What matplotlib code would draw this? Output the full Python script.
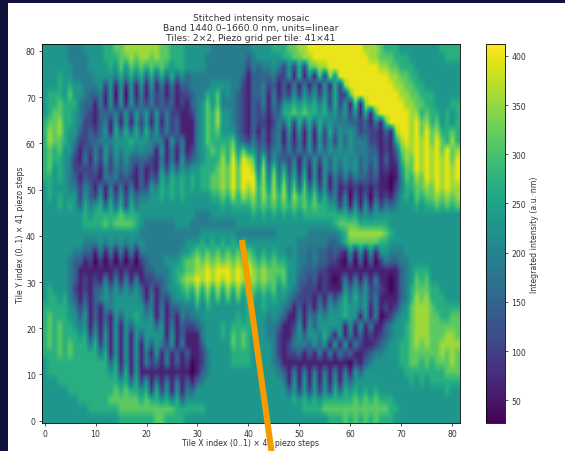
import numpy as np
import matplotlib
matplotlib.use("Agg")
import matplotlib.pyplot as plt
from matplotlib.lines import Line2D
from matplotlib.patches import Rectangle

# intensity, one digit per column, one line per two rows
level_values = [28, 62, 105, 150, 190, 230, 270, 315, 355, 400]

top_left = [
    "5555544455 5566778888 8887766655 5554444444 4",
    "5555544445 5566677878 8787766655 5544444444 3",
    "5555554445 5556575767 6767656655 5544444444 2",
    "5556554444 5555464646 3636363534 4444444443 1",
    "5556565544 4525151515 1514141334 4445555442 1",
    "5666575543 3415050514 1423131223 4465745432 1",
    "5667666433 1415151524 2423231213 4575744432 1",
    "5677665432 1333425253 5252422112 4576855432 1",
    "6778665422 1341515152 5151423111 4576855432 1",
    "6878655323 2351636363 6352423111 4576755532 1",
    "6877654223 3444555655 5444152411 4576666743 2",
    "6767553132 4253545545 4415141412 4567676857 5",
    "6766542141 4252535333 3214141523 4566686969 8",
    "6756542222 3142434313 1215253545 5666787979 9",
    "6656543132 2143423213 1326465656 5667787979 9",
    "5655544243 1414141413 2546565656 5667787979 8",
    "5656555253 2515252534 4556565655 5556676868 7",
    "5556565364 5636362645 5555555555 5555565666 6",
    "5555555565 6666676665 5555555555 4445555555 5",
    "5555555566 6676777765 4444445554 4444444455 5",
]

top_right = [
    "5555666778 8999999999 9988876665 5555555666 6",
    "4555556677 8899999999 9998877766 6555555566 6",
    "4344542526 2778899999 9999988776 6655555555 5",
    "3333422516 1517285999 9999999887 7665555555 5",
    "3342313141 4141516289 9999999988 7766555555 5",
    "3341413252 5352526227 9999999998 8776665555 5",
    "3241425565 6564626251 7189999999 8877665556 6",
    "3231336676 7665645352 5161799999 9886766565 6",
    "3221243626 3636454443 3231417999 9897867565 6",
    "3131341515 1516263545 4232213189 9897978667 6",
    "4231341414 1515252535 4442212168 9898979768 6",
    "5342442424 2525354545 4443312137 8898989797 8",
    "7372533241 4252535454 5343413126 8798989897 9",
    "8483736251 5151535354 5342412115 7798989898 9",
    "9584847362 6151514242 4332311014 7687989898 9",
    "9685858473 7362514121 2121211024 6677879898 8",
    "8686868586 7574634140 3130312135 6576778787 8",
    "7676767676 7676655251 5151524345 5565667676 7",
    "6565656565 6666666665 6454555555 5555555555 5",
    "5555555555 5555556777 7666666555 5555555555 5",
]

bottom_left = [
    "5555555555 5555555554 4444444444 4555555544 4",
    "5555555544 4545454545 4444444455 5656565656 5",
    "5555554433 1414141414 4444444556 7676767676 7",
    "5555543312 0202020202 3444555677 8787878787 8",
    "5555543111 1111212111 3344456677 8898999898 9",
    "5555543121 2141414141 2233456788 9898989898 8",
    "5655542121 3353535353 1313455676 8686868686 7",
    "5665643131 3454555554 1413245565 7575757575 7",
    "6666654241 3144555555 3414133444 6465555555 6",
    "6766655351 3131535565 4514131434 4555555565 6",
    "6767665451 4141515355 5535141322 3455565666 6",
    "6767666562 5151515153 5555151311 1455565767 6",
    "6767676664 6251515151 5354251411 1355555767 6",
    "6667676666 6461515151 4151413131 1245555666 6",
    "5666666666 6663615151 4231413120 1245555666 6",
    "5666666666 6665626151 1111111110 1345555555 5",
    "5556666666 6666656362 5141414131 3455555555 5",
    "5555566666 6666767665 6262515143 5555555555 5",
    "5555555666 6667777776 7665646355 5555555555 5",
    "5555555556 6666677777 7777776666 6655555555 5",
    "5555555555 5555566666 6677666655 5555555555 5",
]

bottom_right = [
    "4444455555 5444444568 8888887655 5555555555 5",
    "5555555554 4444433467 7777766555 5555555555 5",
    "6565655454 4343323215 1515155444 5555555555 5",
    "7676766554 4343322103 0303024334 4555555555 5",
    "8787777554 3332211111 1111111113 4566655555 5",
    "8787767553 3231210141 4141411013 4576755555 5",
    "7676756543 2221211153 5352321013 4677766555 5",
    "6565655432 2213142464 6452411113 4687866655 5",
    "5565554313 1314254565 5451412124 5788876666 6",
    "5554543114 1435455565 5151401245 5788877667 7",
    "5554431125 1535555515 1514113455 6788877777 7",
    "5554421135 3554641514 1312123455 6788877788 7",
    "5555421244 4353515151 4211234556 6787877888 8",
    "5555421223 1314141423 1123445556 6777777878 7",
    "5555431111 1111111110 2134555556 6776767778 7",
    "5555543141 4141414141 5355555555 6666666677 7",
    "5555554151 5151515153 5555555555 5656566666 6",
    "5555555352 5252526365 6565655555 5555555565 5",
    "5555555565 6565666666 7676766655 5555555555 5",
    "5555555555 6666777777 7777777665 5555555555 5",
    "5555555555 5555566676 7676766655 5555555555 5",
]

x_ticks = [0, 10, 20, 30, 40, 50, 60, 70, 80]
y_ticks = [0, 10, 20, 30, 40, 50, 60, 70, 80]
cbar_ticks = [50, 100, 150, 200, 250, 300, 350, 400]


def to_values(left, right):
    rows = []
    for a, b in zip(left, right):
        digits = (a + b).replace(" ", "")
        rows.append([level_values[int(c)] for c in digits])
    return rows


grid = np.array(to_values(top_left, top_right) + to_values(bottom_left, bottom_right))

W, H = 565, 452
fig = plt.figure(figsize=(W / 100, H / 100), dpi=100, facecolor="#12123f")
fig.add_artist(Rectangle((8 / W, 0), 1 - 8 / W, 1 - 4 / H, transform=fig.transFigure,
                         facecolor="white", edgecolor="none", zorder=-10))

ax = fig.add_axes([42 / W, 1 - 424 / H, 418 / W, 379 / H])
im = ax.imshow(grid, cmap="viridis", vmin=27, vmax=412, aspect="auto",
               extent=[-0.5, 81.5, -0.5, 81.5], interpolation="bilinear")
ax.set_xticks(x_ticks)
ax.set_yticks(y_ticks)
ax.tick_params(labelsize=5.6, length=2.5, width=0.6, pad=2, colors="#333333")
for s in ax.spines.values():
    s.set_linewidth(0.6)
ax.set_xlabel("Tile X index (0..1) × 41 piezo steps", fontsize=5.6, labelpad=0, color="#333333")
ax.set_ylabel("Tile Y index (0..1) × 41 piezo steps", fontsize=5.6, labelpad=0.5, color="#333333")
ax.set_title("Stitched intensity mosaic\nBand 1440.0–1660.0 nm, units=linear\n"
             "Tiles: 2×2, Piezo grid per tile: 41×41", fontsize=6.6, pad=3, linespacing=1.1,
             color="#333333")

cax = fig.add_axes([486 / W, 1 - 424 / H, 19 / W, 379 / H])
cb = fig.colorbar(im, cax=cax, ticks=cbar_ticks)
cb.ax.tick_params(labelsize=5.6, length=2.5, width=0.6, pad=2, colors="#333333")
cb.outline.set_linewidth(0.6)
cb.set_label("Integrated intensity (a.u.·nm)", fontsize=5.6, labelpad=3, color="#333333")

# orange stroke drawn over the screenshot
fig.add_artist(Line2D([242 / W, 272 / W], [1 - 241 / H, 1 - 456 / H], transform=fig.transFigure,
                      color="#f59b00", linewidth=4.4, solid_capstyle="butt", zorder=10))

fig.savefig("out.png", dpi=100, facecolor=fig.get_facecolor())
